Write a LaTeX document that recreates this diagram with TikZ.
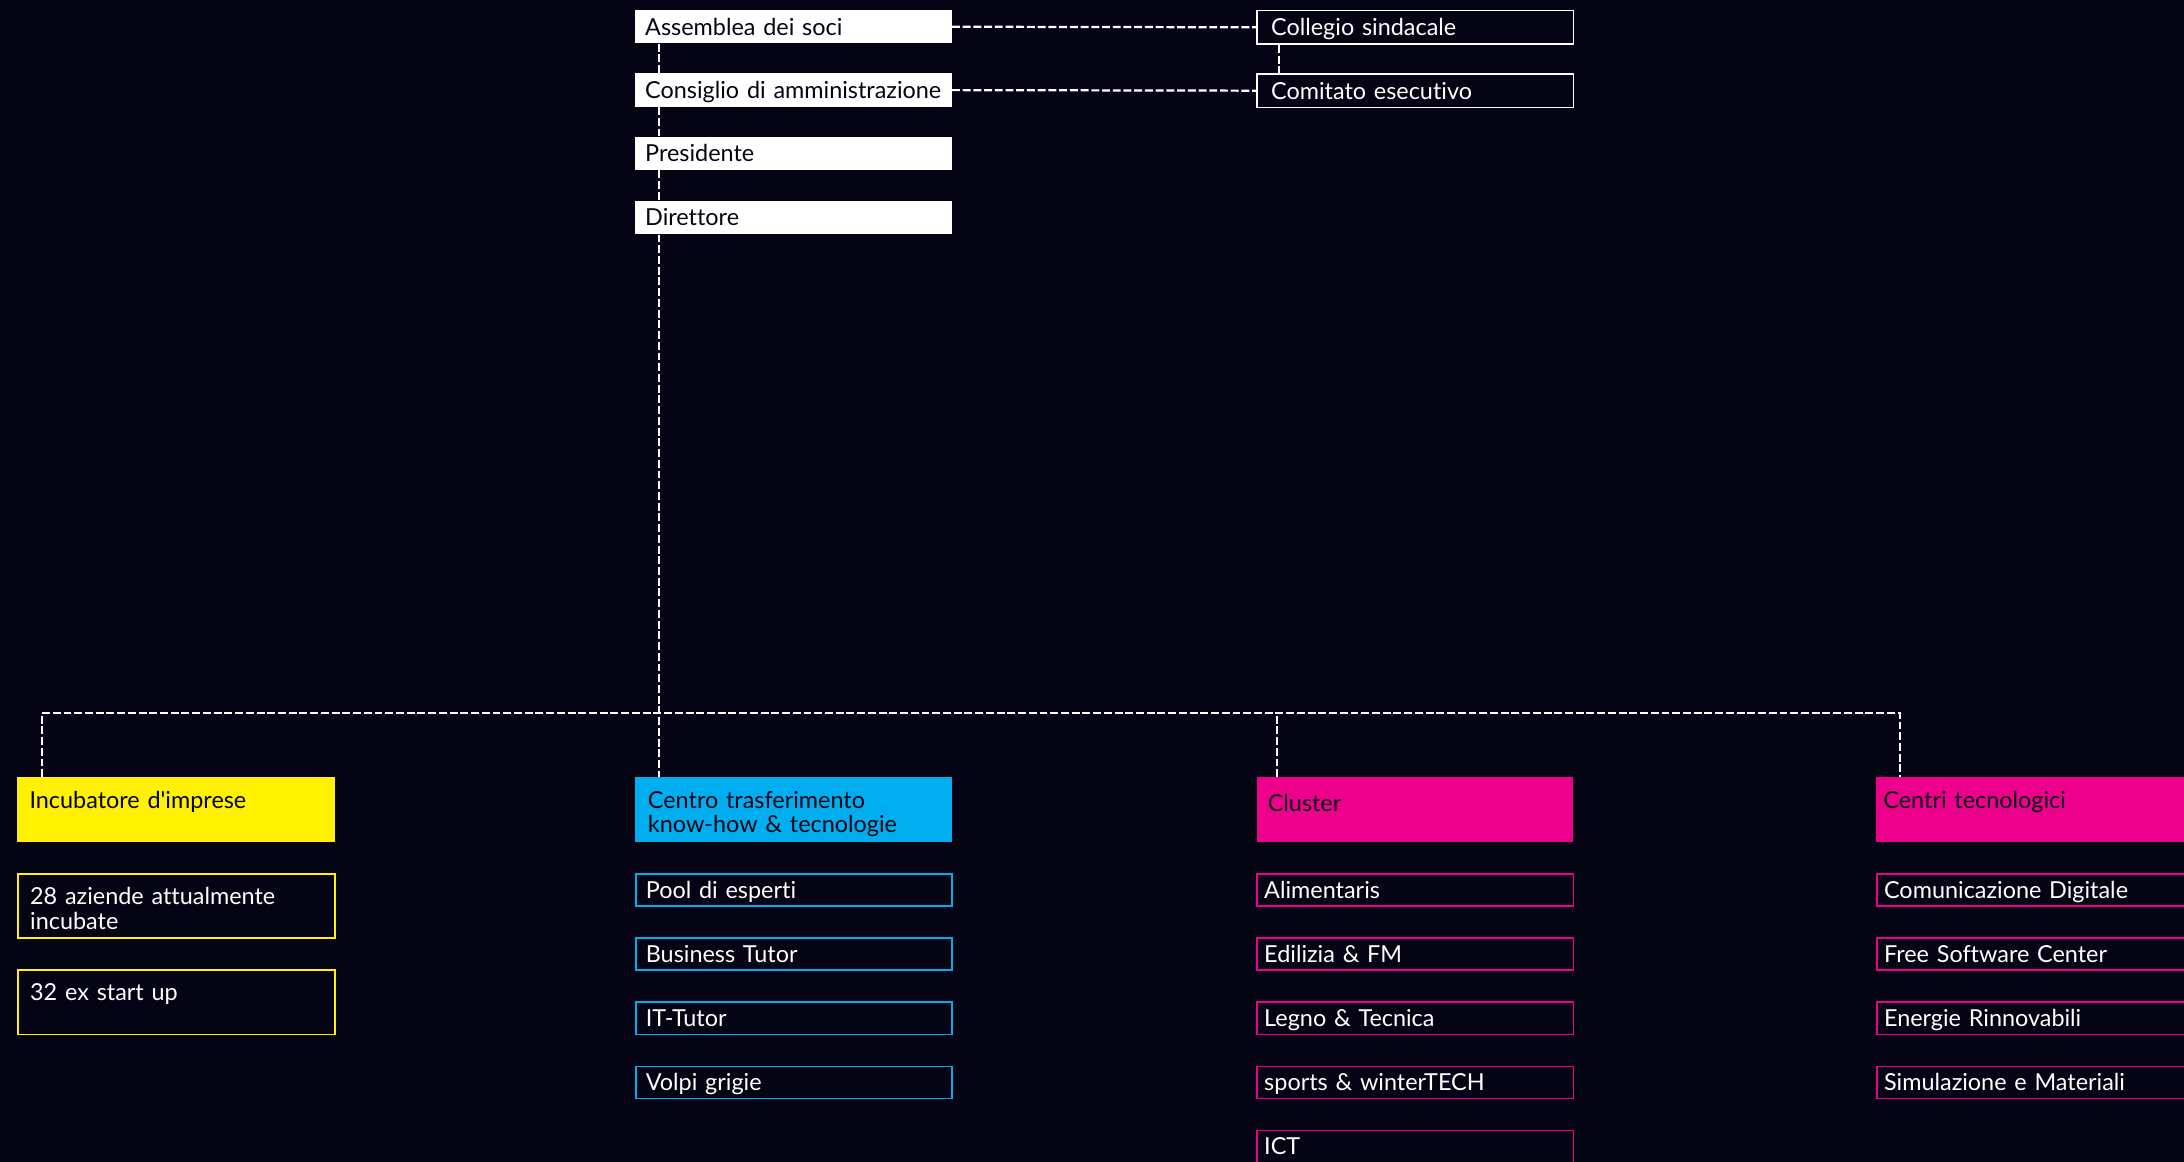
\documentclass[tikz,border=0pt]{standalone}
\usepackage{fontspec}
\setmainfont{Lato}[Ligatures=NoCommon]
\usepackage{tikz}
\usetikzlibrary{calc}

\definecolor{nightbg}{RGB}{4,4,20}
\definecolor{incyellow}{RGB}{255,241,0}
\definecolor{cttcyan}{RGB}{0,174,239}
\definecolor{clmagenta}{RGB}{236,0,140}

\tikzset{
  box/.style={rectangle, anchor=north west, inner xsep=7pt, inner ysep=0pt, text width=213pt, align=left,
    font=\fontsize{16.8}{17.4}\selectfont, text height=13pt, text depth=1pt},
  topbox/.style={box, fill=white, text=nightbg, minimum height=24pt},
  sidebox/.style={box, draw=white, line width=1.2pt, text=white, inner xsep=10pt, text width=207pt, minimum height=24pt},
  headbox/.style={box, fill=#1, text=nightbg, inner ysep=9pt, text depth=15pt},
  subbox/.style={box, draw=#1, line width=1.3pt, text=white, minimum height=23pt},
  tallbox/.style={box, draw=#1, line width=1.3pt, text=white, inner ysep=9pt, text depth=15pt},
  narrow/.style={inner xsep=5pt, text width=217pt},
  conn/.style={draw=white, line width=1.6pt, dash pattern=on 5.7pt off 2pt}
}

\begin{document}
\begin{tikzpicture}[x=1pt, y=-1pt]
    \path[use as bounding box, fill=nightbg] (0,0) rectangle (1568,834);
    \clip (0,0) rectangle (1568,834);

    % Board
    \node[topbox] (assem) at (456,7) {Assemblea dei soci};
    \node[topbox] (cda) at (456,52.5) {\mbox{Consiglio di amministrazione}};
    \node[topbox] (pres) at (456,98) {Presidente};
    \node[topbox] (dir) at (456,144) {Direttore};
    \node[sidebox] (coll) at (902,7) {Collegio sindacale};
    \node[sidebox] (comit) at (902,52.5) {Comitato esecutivo};

    % Areas
    \node[headbox=incyellow, inner xsep=9pt, text width=210pt] (incub) at (12,558) {Incubatore d\textquotesingle imprese};
    \node[headbox=cttcyan, inner xsep=9pt, text width=209pt] (ctt) at (456,558) {Centro trasferimento\\know-how \& tecnologie};
    \node[headbox=clmagenta, inner xsep=8pt, text width=211pt, text height=15.5pt, text depth=12.5pt] (clust) at (902,558) {Cluster};
    \node[headbox=clmagenta, narrow] (centri) at (1347,558) {Centri tecnologici};

    % Incubatore
    \node[tallbox=incyellow, inner xsep=9pt, text width=210pt] (inc1) at (12,627) {28 aziende attualmente\\incubate};
    \node[tallbox=incyellow, inner xsep=9pt, text width=210pt] (inc2) at (12,696) {32 ex start up};

    % Centro trasferimento
    \node[subbox=cttcyan] (ctt1) at (456,627) {Pool di esperti};
    \node[subbox=cttcyan] (ctt2) at (456,673) {Business Tutor};
    \node[subbox=cttcyan] (ctt3) at (456,719) {IT-Tutor};
    \node[subbox=cttcyan] (ctt4) at (456,765) {Volpi grigie};

    % Cluster
    \node[subbox=clmagenta, narrow] (cl1) at (902,627) {Alimentaris};
    \node[subbox=clmagenta, narrow] (cl2) at (902,673) {Edilizia \& FM};
    \node[subbox=clmagenta, narrow] (cl3) at (902,719) {Legno \& Tecnica};
    \node[subbox=clmagenta, narrow] (cl4) at (902,765) {sports \& winterTECH};
    \node[subbox=clmagenta, narrow] (cl5) at (902,811) {ICT};

    % Centri tecnologici
    \node[subbox=clmagenta, narrow] (ce1) at (1347,627) {Comunicazione Digitale};
    \node[subbox=clmagenta, narrow] (ce2) at (1347,673) {Free Software Center};
    \node[subbox=clmagenta, narrow] (ce3) at (1347,719) {Energie Rinnovabili};
    \node[subbox=clmagenta, narrow] (ce4) at (1347,765) {Simulazione e Materiali};

    % Connections
    \draw[conn] (assem.east) -- (coll.west);
    \draw[conn] (cda.east) -- (comit.west);
    \draw[conn] ([xshift=16pt]coll.south west) -- ([xshift=16pt]comit.north west);
    \draw[conn] ([xshift=17pt]assem.south west) -- ([xshift=17pt]cda.north west);
    \draw[conn] ([xshift=17pt]cda.south west) -- ([xshift=17pt]pres.north west);
    \draw[conn] ([xshift=17pt]pres.south west) -- ([xshift=17pt]dir.north west);
    \draw[conn] ([xshift=17pt]dir.south west) -- ([xshift=17pt]ctt.north west);
    \draw[conn] ([xshift=18pt]incub.north west) -- ++(0,-46) -| ([xshift=17pt]centri.north west);
    \draw[conn] ([xshift=15pt]clust.north west) -- ++(0,-46);
\end{tikzpicture}
\end{document}
